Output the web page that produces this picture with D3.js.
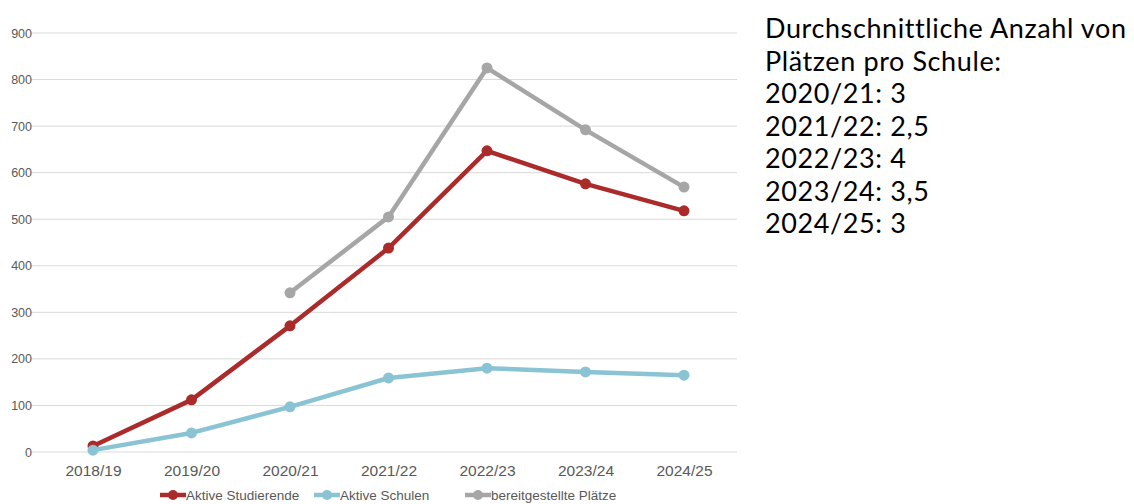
<!DOCTYPE html>
<html>
<head>
<meta charset="utf-8">
<script src="https://cdn.jsdelivr.net/npm/d3@7"></script>
<style>
  body { margin: 0; background: #fff; }
  .tick text { fill: #595959; }
</style>
</head>
<body>
<div id="chart"></div>
<script>
// chart data
let years = ["2018/19", "2019/20", "2020/21", "2021/22", "2022/23", "2023/24", "2024/25"];
let studierende = [13, 112, 271, 438, 647, 576, 518];
let schulen = [4, 41, 97, 159, 180, 172, 165];
let plaetze = [null, null, 342, 505, 825, 692, 569];
let seriesNames = ["Aktive Studierende", "Aktive Schulen", "bereitgestellte Plätze"];
let seriesColors = ["#ab2b2b", "#8ac3d3", "#a6a6a6"];
let yTicks = [0, 100, 200, 300, 400, 500, 600, 700, 800, 900];
let noteLines = ["Durchschnittliche Anzahl von", "Plätzen pro Schule:", "2020/21: 3", "2021/22: 2,5", "2022/23: 4", "2023/24: 3,5", "2024/25: 3"];

let svgWidth = 1134;
let svgHeight = 504;

let svg = d3.select("#chart")
    .append("svg")
    .attr("width", svgWidth)
    .attr("height", svgHeight);

// scales
let x = d3.scalePoint()
    .domain(years)
    .range([93, 684]);

let y = d3.scaleLinear()
    .domain([0, 900])
    .range([452, 33]);

// gridlines
svg.append("g")
    .selectAll("line")
    .data(yTicks)
    .enter()
    .append("line")
    .attr("x1", 31)
    .attr("x2", 737)
    .attr("y1", d => y(d))
    .attr("y2", d => y(d))
    .attr("stroke", "#d9d9d9")
    .attr("stroke-width", 1);

// y axis labels
let leftAxis = d3.axisLeft(y).tickValues(yTicks).tickSize(0).tickPadding(0);
svg.append("g")
    .attr("transform", "translate(32,0)")
    .call(leftAxis)
    .call(g => g.select(".domain").remove())
    .selectAll("text")
    .attr("font-family", "'Liberation Sans', sans-serif")
    .attr("font-size", 12.5);

// x axis labels
let bottomAxis = d3.axisBottom(x).tickSize(0).tickPadding(0);
svg.append("g")
    .attr("transform", "translate(0,465)")
    .call(bottomAxis)
    .call(g => g.select(".domain").remove())
    .selectAll("text")
    .attr("font-family", "'Liberation Sans', sans-serif")
    .attr("font-size", 15.5);

// lines + markers
let allSeries = [studierende, schulen, plaetze];
let line = d3.line()
    .defined(d => d.v != null)
    .x(d => x(d.year))
    .y(d => y(d.v));

allSeries.forEach(function(values, i) {
    let pts = years.map((yr, j) => ({ year: yr, v: values[j] }));
    svg.append("path")
        .datum(pts)
        .attr("d", line)
        .attr("fill", "none")
        .attr("stroke", seriesColors[i])
        .attr("stroke-width", 4.5)
        .attr("stroke-linejoin", "round");
    svg.append("g")
        .selectAll("circle")
        .data(pts.filter(d => d.v != null))
        .enter()
        .append("circle")
        .attr("cx", d => x(d.year))
        .attr("cy", d => y(d.v))
        .attr("r", 5.5)
        .attr("fill", seriesColors[i]);
});

// legend
let legendX = [160, 314, 465];
let legend = svg.append("g");
seriesNames.forEach(function(name, i) {
    let g = legend.append("g").attr("transform", `translate(${legendX[i]},495)`);
    g.append("line")
        .attr("x1", 0).attr("x2", 26)
        .attr("stroke", seriesColors[i])
        .attr("stroke-width", 4.5);
    g.append("circle")
        .attr("cx", 13).attr("r", 5)
        .attr("fill", seriesColors[i]);
    g.append("text")
        .attr("x", 26)
        .attr("dy", "0.35em")
        .attr("font-family", "'Liberation Sans', sans-serif")
        .attr("font-size", 13.5)
        .attr("fill", "#595959")
        .text(name);
});

// side note
svg.append("g")
    .selectAll("text")
    .data(noteLines)
    .enter()
    .append("text")
    .attr("x", 765)
    .attr("y", (d, i) => 38 + i * 32.5)
    .attr("font-family", "Lato, sans-serif")
    .attr("font-size", 27)
    .attr("letter-spacing", 0.6)
    .attr("fill", "#000")
    .text(d => d);
</script>
</body>
</html>
